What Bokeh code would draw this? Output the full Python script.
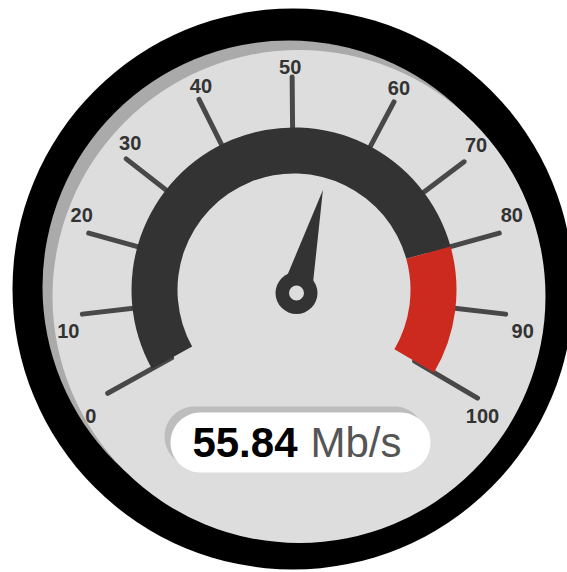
import numpy as np
from bokeh.plotting import figure
from bokeh.models import Range1d
from bokeh.core.properties import value
from bokeh.embed import file_html
from bokeh.resources import INLINE

# ---- data ----
tick_values = [0, 10, 20, 30, 40, 50, 60, 70, 80, 90, 100]
tick_labels = ["0", "10", "20", "30", "40", "50", "60", "70", "80", "90", "100"]
band_starts = [0, 80]
band_ends = [80, 100]
band_colors = ["#333333", "#cc2a1f"]
reading = 55.84
unit = "Mb/s"

# ---- gauge calibration (angle in degrees for each tick value) ----
scale_angles = [209.0, 186.5, 164.5, 142.0, 116.5, 90.5, 62.0, 37.0, 15.5, -6.5, -30.5]
# nudges of the tick labels from the tick ends (pixels; y positive = up)
label_nudge_x = [-17, -14, -7, 4, 2, -2, 5, 12, 12.5, 17, 5]
label_nudge_y = [-22.8, -17.2, 17.7, 16.3, 13.6, 10, 13.8, 16.4, 17.7, -17.2, -17.5]


def ang(v):
    return np.radians(np.interp(v, tick_values, scale_angles))


# layout (screen-like coords: x right, y = -screen_y)
CX, CY = 293.5, -289.5
HX, HY = 296.0, -292.5

p = figure(width=567, height=572, output_backend="svg", toolbar_location=None,
           x_range=Range1d(0, 567), y_range=Range1d(-572, 0), min_border=0)
p.axis.visible = False
p.grid.visible = False
p.outline_line_color = None
p.background_fill_color = "white"
p.border_fill_color = "white"

# bezel, shadow, face
p.circle(x=[292.5], y=[-288.5], radius=280.5, fill_color="#000000", line_color=None)
p.circle(x=[288.5], y=[-286.5], radius=246.5, fill_color="#aaaaaa", line_color=None)
p.circle(x=[298.5], y=[-296.0], radius=246.5, fill_color="#dddddd", line_color=None)

# ticks
ta = ang(np.array(tick_values, dtype=float))
r_in, r_out = 140.0, 213.0
p.segment(x0=CX + r_in * np.cos(ta), y0=CY + r_in * np.sin(ta),
          x1=CX + r_out * np.cos(ta), y1=CY + r_out * np.sin(ta),
          line_color="#484848", line_width=5, line_cap="round")

# tick labels
ex = CX + r_out * np.cos(ta)
ey = CY + r_out * np.sin(ta)
p.text(x=ex + np.array(label_nudge_x), y=ey + np.array(label_nudge_y), text=tick_labels,
       text_font=value("Liberation Sans"), text_font_style="bold",
       text_font_size="20px", text_color="#333333",
       text_align="center", text_baseline="middle")

# bands
for s, e, c in zip(band_starts, band_ends, band_colors):
    p.annular_wedge(x=[CX], y=[CY], inner_radius=116.5, outer_radius=162.5,
                    start_angle=float(ang(e)), end_angle=float(ang(s)),
                    fill_color=c, line_color=None)

# needle
th = ang(reading)
tip = np.array([CX + 104 * np.cos(th), CY + 104 * np.sin(th)])
base = np.array([HX, HY])
u = (tip - base) / np.linalg.norm(tip - base)
n = np.array([-u[1], u[0]])
b1 = base + 15.5 * n
b2 = base - 15.5 * n
p.patch(x=[tip[0], b1[0], b2[0]], y=[tip[1], b1[1], b2[1]],
        fill_color="#333333", line_color=None)
p.circle(x=[HX], y=[HY], radius=21, fill_color="#333333", line_color=None)
p.circle(x=[HX], y=[HY], radius=7.5, fill_color="#dddddd", line_color=None)


# value box (pill)
def pill(x0, x1, y0, y1):
    r = (y1 - y0) / 2.0
    t1 = np.linspace(-np.pi / 2, np.pi / 2, 40)
    t2 = np.linspace(np.pi / 2, 3 * np.pi / 2, 40)
    xs = np.concatenate([x1 - r + r * np.cos(t1), x0 + r + r * np.cos(t2)])
    ys = np.concatenate([(y0 + r) + r * np.sin(t1), (y0 + r) + r * np.sin(t2)])
    return xs, ys


sx, sy = pill(164, 424, -466, -406)
p.patch(x=sx, y=sy, fill_color="#bdbdbd", line_color=None)
bx, by = pill(170, 430, -472, -412)
p.patch(x=bx, y=by, fill_color="#ffffff", line_color=None)

p.text(x=[297], y=[-442], text=[f"{reading:.2f}"],
       text_font=value("Liberation Sans"), text_font_style="bold",
       text_font_size="42px", text_color="#000000",
       text_align="right", text_baseline="middle")
p.text(x=[310], y=[-442], text=[unit],
       text_font=value("Liberation Sans"), text_font_style="normal",
       text_font_size="42px", text_color="#555555",
       text_align="left", text_baseline="middle")

open("out.html", "w").write(file_html(p, INLINE))
